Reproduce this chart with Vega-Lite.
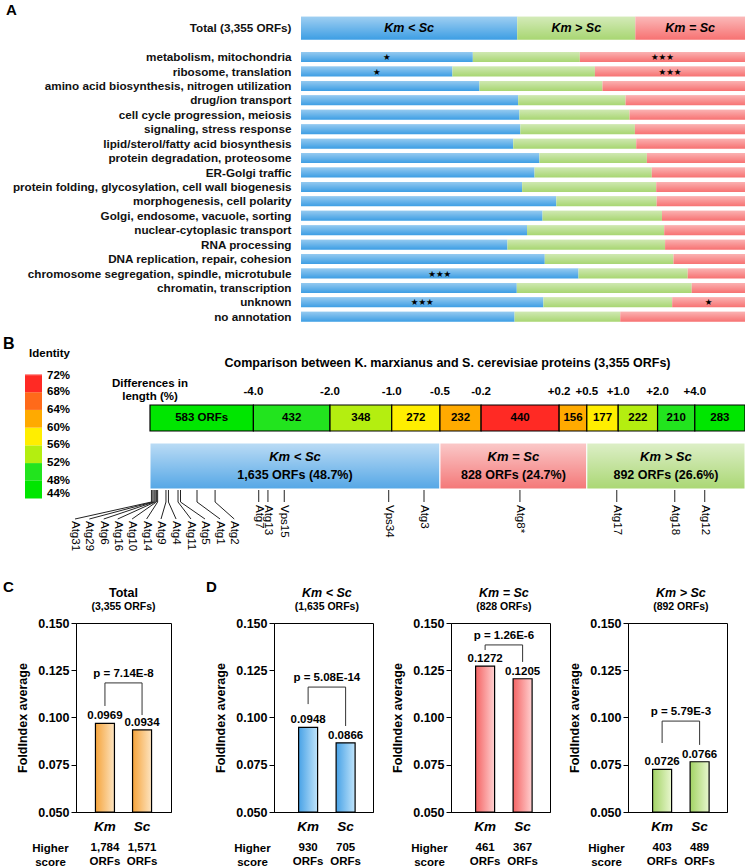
{
  "$schema": "https://vega.github.io/schema/vega-lite/v6.json",
  "padding": {"left": 2, "top": 2, "right": 0, "bottom": 0},
  "config": {
    "font": "Liberation Sans",
    "view": {"stroke": null},
    "title": {"fontSize": 15, "fontWeight": "bold", "anchor": "start", "frame": "group", "color": "black"}
  },
  "datasets": {
    "catA": [
      {"c": "Total (3,355 ORFs)", "g": "Km < Sc", "i": 0, "v": 48.7, "s": ""},
      {"c": "Total (3,355 ORFs)", "g": "Km > Sc", "i": 1, "v": 26.6, "s": ""},
      {"c": "Total (3,355 ORFs)", "g": "Km = Sc", "i": 2, "v": 24.7, "s": ""},
      {"c": "metabolism, mitochondria", "g": "Km < Sc", "i": 0, "v": 38.7, "s": "★"},
      {"c": "metabolism, mitochondria", "g": "Km > Sc", "i": 1, "v": 24.1, "s": ""},
      {"c": "metabolism, mitochondria", "g": "Km = Sc", "i": 2, "v": 37.2, "s": "★★★"},
      {"c": "ribosome, translation", "g": "Km < Sc", "i": 0, "v": 34.1, "s": "★"},
      {"c": "ribosome, translation", "g": "Km > Sc", "i": 1, "v": 32.1, "s": ""},
      {"c": "ribosome, translation", "g": "Km = Sc", "i": 2, "v": 33.8, "s": "★★★"},
      {"c": "amino acid biosynthesis, nitrogen utilization", "g": "Km < Sc", "i": 0, "v": 40.2, "s": ""},
      {"c": "amino acid biosynthesis, nitrogen utilization", "g": "Km > Sc", "i": 1, "v": 27.7, "s": ""},
      {"c": "amino acid biosynthesis, nitrogen utilization", "g": "Km = Sc", "i": 2, "v": 32.1, "s": ""},
      {"c": "drug/ion transport", "g": "Km < Sc", "i": 0, "v": 48.9, "s": ""},
      {"c": "drug/ion transport", "g": "Km > Sc", "i": 1, "v": 24.2, "s": ""},
      {"c": "drug/ion transport", "g": "Km = Sc", "i": 2, "v": 26.9, "s": ""},
      {"c": "cell cycle progression, meiosis", "g": "Km < Sc", "i": 0, "v": 49.2, "s": ""},
      {"c": "cell cycle progression, meiosis", "g": "Km > Sc", "i": 1, "v": 24.8, "s": ""},
      {"c": "cell cycle progression, meiosis", "g": "Km = Sc", "i": 2, "v": 26.0, "s": ""},
      {"c": "signaling, stress response", "g": "Km < Sc", "i": 0, "v": 49.4, "s": ""},
      {"c": "signaling, stress response", "g": "Km > Sc", "i": 1, "v": 25.8, "s": ""},
      {"c": "signaling, stress response", "g": "Km = Sc", "i": 2, "v": 24.8, "s": ""},
      {"c": "lipid/sterol/fatty acid biosynthesis", "g": "Km < Sc", "i": 0, "v": 47.8, "s": ""},
      {"c": "lipid/sterol/fatty acid biosynthesis", "g": "Km > Sc", "i": 1, "v": 27.7, "s": ""},
      {"c": "lipid/sterol/fatty acid biosynthesis", "g": "Km = Sc", "i": 2, "v": 24.5, "s": ""},
      {"c": "protein degradation, proteosome", "g": "Km < Sc", "i": 0, "v": 53.7, "s": ""},
      {"c": "protein degradation, proteosome", "g": "Km > Sc", "i": 1, "v": 24.2, "s": ""},
      {"c": "protein degradation, proteosome", "g": "Km = Sc", "i": 2, "v": 22.1, "s": ""},
      {"c": "ER-Golgi traffic", "g": "Km < Sc", "i": 0, "v": 52.6, "s": ""},
      {"c": "ER-Golgi traffic", "g": "Km > Sc", "i": 1, "v": 26.4, "s": ""},
      {"c": "ER-Golgi traffic", "g": "Km = Sc", "i": 2, "v": 21.0, "s": ""},
      {"c": "protein folding, glycosylation, cell wall biogenesis", "g": "Km < Sc", "i": 0, "v": 49.8, "s": ""},
      {"c": "protein folding, glycosylation, cell wall biogenesis", "g": "Km > Sc", "i": 1, "v": 30.2, "s": ""},
      {"c": "protein folding, glycosylation, cell wall biogenesis", "g": "Km = Sc", "i": 2, "v": 20.0, "s": ""},
      {"c": "morphogenesis, cell polarity", "g": "Km < Sc", "i": 0, "v": 57.5, "s": ""},
      {"c": "morphogenesis, cell polarity", "g": "Km > Sc", "i": 1, "v": 22.6, "s": ""},
      {"c": "morphogenesis, cell polarity", "g": "Km = Sc", "i": 2, "v": 19.9, "s": ""},
      {"c": "Golgi, endosome, vacuole, sorting", "g": "Km < Sc", "i": 0, "v": 54.4, "s": ""},
      {"c": "Golgi, endosome, vacuole, sorting", "g": "Km > Sc", "i": 1, "v": 26.9, "s": ""},
      {"c": "Golgi, endosome, vacuole, sorting", "g": "Km = Sc", "i": 2, "v": 18.7, "s": ""},
      {"c": "nuclear-cytoplasic transport", "g": "Km < Sc", "i": 0, "v": 50.9, "s": ""},
      {"c": "nuclear-cytoplasic transport", "g": "Km > Sc", "i": 1, "v": 30.9, "s": ""},
      {"c": "nuclear-cytoplasic transport", "g": "Km = Sc", "i": 2, "v": 18.2, "s": ""},
      {"c": "RNA processing", "g": "Km < Sc", "i": 0, "v": 46.5, "s": ""},
      {"c": "RNA processing", "g": "Km > Sc", "i": 1, "v": 35.5, "s": ""},
      {"c": "RNA processing", "g": "Km = Sc", "i": 2, "v": 18.0, "s": ""},
      {"c": "DNA replication, repair, cohesion", "g": "Km < Sc", "i": 0, "v": 54.9, "s": ""},
      {"c": "DNA replication, repair, cohesion", "g": "Km > Sc", "i": 1, "v": 29.0, "s": ""},
      {"c": "DNA replication, repair, cohesion", "g": "Km = Sc", "i": 2, "v": 16.1, "s": ""},
      {"c": "chromosome segregation, spindle, microtubule", "g": "Km < Sc", "i": 0, "v": 62.5, "s": "★★★"},
      {"c": "chromosome segregation, spindle, microtubule", "g": "Km > Sc", "i": 1, "v": 24.6, "s": ""},
      {"c": "chromosome segregation, spindle, microtubule", "g": "Km = Sc", "i": 2, "v": 12.9, "s": ""},
      {"c": "chromatin, transcription", "g": "Km < Sc", "i": 0, "v": 48.6, "s": ""},
      {"c": "chromatin, transcription", "g": "Km > Sc", "i": 1, "v": 39.4, "s": ""},
      {"c": "chromatin, transcription", "g": "Km = Sc", "i": 2, "v": 12.0, "s": ""},
      {"c": "unknown", "g": "Km < Sc", "i": 0, "v": 54.6, "s": "★★★"},
      {"c": "unknown", "g": "Km > Sc", "i": 1, "v": 29.0, "s": ""},
      {"c": "unknown", "g": "Km = Sc", "i": 2, "v": 16.4, "s": "★"},
      {"c": "no annotation", "g": "Km < Sc", "i": 0, "v": 48.1, "s": ""},
      {"c": "no annotation", "g": "Km > Sc", "i": 1, "v": 23.8, "s": ""},
      {"c": "no annotation", "g": "Km = Sc", "i": 2, "v": 28.1, "s": ""}
    ],
    "lengthB": [
      {"r": "< -4.0", "n": 583, "id": 46, "i": 0, "lab": "583 ORFs", "b": "-4.0"},
      {"r": "-4.0 to -2.0", "n": 432, "id": 50, "i": 1, "lab": "432", "b": "-2.0"},
      {"r": "-2.0 to -1.0", "n": 348, "id": 54, "i": 2, "lab": "348", "b": "-1.0"},
      {"r": "-1.0 to -0.5", "n": 272, "id": 58, "i": 3, "lab": "272", "b": "-0.5"},
      {"r": "-0.5 to -0.2", "n": 232, "id": 62, "i": 4, "lab": "232", "b": "-0.2"},
      {"r": "-0.2 to +0.2", "n": 440, "id": 70, "i": 5, "lab": "440", "b": "+0.2"},
      {"r": "+0.2 to +0.5", "n": 156, "id": 62, "i": 6, "lab": "156", "b": "+0.5"},
      {"r": "+0.5 to +1.0", "n": 177, "id": 58, "i": 7, "lab": "177", "b": "+1.0"},
      {"r": "+1.0 to +2.0", "n": 222, "id": 54, "i": 8, "lab": "222", "b": "+2.0"},
      {"r": "+2.0 to +4.0", "n": 210, "id": 50, "i": 9, "lab": "210", "b": "+4.0"},
      {"r": "> +4.0", "n": 283, "id": 46, "i": 10, "lab": "283", "b": ""}
    ],
    "classB": [
      {"cls": "Km < Sc", "n": 1635, "i": 0, "lab": "1,635 ORFs (48.7%)"},
      {"cls": "Km = Sc", "n": 828, "i": 1, "lab": "828 ORFs (24.7%)"},
      {"cls": "Km > Sc", "n": 892, "i": 2, "lab": "892 ORFs (26.6%)"}
    ],
    "atg": [
      {"name": "Atg31", "pos": 8, "lp": -423, "fan": true},
      {"name": "Atg29", "pos": 16, "lp": -342, "fan": true},
      {"name": "Atg6", "pos": 23, "lp": -261, "fan": true},
      {"name": "Atg16", "pos": 29, "lp": -182, "fan": true},
      {"name": "Atg10", "pos": 36, "lp": -101, "fan": true},
      {"name": "Atg14", "pos": 43, "lp": -19, "fan": true},
      {"name": "Atg9", "pos": 90, "lp": 62, "fan": true},
      {"name": "Atg4", "pos": 104, "lp": 147, "fan": true},
      {"name": "Atg11", "pos": 158, "lp": 231, "fan": true},
      {"name": "Atg5", "pos": 172, "lp": 310, "fan": true},
      {"name": "Atg1", "pos": 265, "lp": 395, "fan": true},
      {"name": "Atg2", "pos": 367, "lp": 475, "fan": true},
      {"name": "Atg7", "pos": 613, "lp": 613, "fan": false},
      {"name": "Atg13", "pos": 665, "lp": 665, "fan": false},
      {"name": "Vps15", "pos": 757, "lp": 757, "fan": false},
      {"name": "Vps34", "pos": 1346, "lp": 1346, "fan": false},
      {"name": "Atg3", "pos": 1545, "lp": 1545, "fan": false},
      {"name": "Atg8*", "pos": 2086, "lp": 2086, "fan": false},
      {"name": "Atg17", "pos": 2632, "lp": 2632, "fan": false},
      {"name": "Atg18", "pos": 2959, "lp": 2959, "fan": false},
      {"name": "Atg12", "pos": 3128, "lp": 3128, "fan": false}
    ]
  },
  "columns": 1,
  "spacing": 27,
  "concat": [
    {
      "columns": 1,
      "spacing": 12,
      "concat": [
        {
          "width": 669,
          "height": 303,
          "title": {"text": "A", "dx": -70, "offset": -1},
          "data": {"name": "catA"},
          "encoding": {
            "y": {
              "field": "c", "type": "nominal",
              "scale": {"domain": ["Total (3,355 ORFs)", " ", "metabolism, mitochondria", "ribosome, translation", "amino acid biosynthesis, nitrogen utilization", "drug/ion transport", "cell cycle progression, meiosis", "signaling, stress response", "lipid/sterol/fatty acid biosynthesis", "protein degradation, proteosome", "ER-Golgi traffic", "protein folding, glycosylation, cell wall biogenesis", "morphogenesis, cell polarity", "Golgi, endosome, vacuole, sorting", "nuclear-cytoplasic transport", "RNA processing", "DNA replication, repair, cohesion", "chromosome segregation, spindle, microtubule", "chromatin, transcription", "unknown", "no annotation"], "paddingInner": 0, "paddingOuter": 0},
              "axis": {"title": null, "domain": false, "ticks": false, "offset": -225, "labelPadding": 10, "labelFontSize": 11.7, "labelFontWeight": "bold", "labelColor": "#111", "labelLimit": 400}
            }
          },
          "layer": [
            {
              "transform": [{"filter": "datum.c === 'Total (3,355 ORFs)'"}],
              "mark": {"type": "bar", "height": 23},
              "encoding": {
                "x": {"field": "v", "type": "quantitative", "stack": "zero", "scale": {"domain": [-50.68, 100], "nice": false, "zero": false}, "axis": null},
                "color": {"field": "g", "type": "nominal", "scale": {"domain": ["Km < Sc", "Km > Sc", "Km = Sc"], "range": ["#3d9ee4", "#a8d672", "#f77272"]}, "legend": null},
                "order": {"field": "i", "type": "quantitative"}
              }
            },
            {
              "transform": [{"filter": "datum.c !== 'Total (3,355 ORFs)'"}],
              "mark": {"type": "bar", "height": 10},
              "encoding": {
                "x": {"field": "v", "type": "quantitative", "stack": "zero"},
                "color": {"field": "g", "type": "nominal", "legend": null},
                "order": {"field": "i", "type": "quantitative"}
              }
            },
            {
              "transform": [{"filter": "datum.c === 'Total (3,355 ORFs)'"}],
              "mark": {"type": "bar", "height": 23, "color": {"gradient": "linear", "x1": 0, "y1": 0, "x2": 0, "y2": 1, "stops": [{"offset": 0, "color": "rgba(255,255,255,0.5)"}, {"offset": 1, "color": "rgba(255,255,255,0)"}]}},
              "encoding": {"x": {"aggregate": "sum", "field": "v", "type": "quantitative"}}
            },
            {
              "transform": [{"filter": "datum.c !== 'Total (3,355 ORFs)'"}],
              "mark": {"type": "bar", "height": 10, "color": {"gradient": "linear", "x1": 0, "y1": 0, "x2": 0, "y2": 1, "stops": [{"offset": 0, "color": "rgba(255,255,255,0.45)"}, {"offset": 1, "color": "rgba(255,255,255,0)"}]}},
              "encoding": {"x": {"aggregate": "sum", "field": "v", "type": "quantitative"}}
            },
            {
              "transform": [{"filter": "datum.c === 'Total (3,355 ORFs)'"}],
              "mark": {"type": "text", "fontStyle": "italic", "fontWeight": "bold", "fontSize": 12.5, "color": "black"},
              "encoding": {
                "x": {"field": "v", "type": "quantitative", "stack": "zero", "bandPosition": 0.5},
                "detail": {"field": "g"},
                "order": {"field": "i", "type": "quantitative"},
                "text": {"field": "g"}
              }
            },
            {
              "transform": [{"filter": "datum.c !== 'Total (3,355 ORFs)'"}],
              "mark": {"type": "text", "font": "DejaVu Sans", "fontSize": 8.5, "color": "black"},
              "encoding": {
                "x": {"field": "v", "type": "quantitative", "stack": "zero", "bandPosition": 0.5},
                "detail": {"field": "g"},
                "order": {"field": "i", "type": "quantitative"},
                "text": {"field": "s"}
              }
            }
          ]
        },
        {
          "width": 669,
          "height": 96,
          "title": {"text": "B", "dx": -73, "offset": -4, "fontSize": 16},
          "layer": [
            {
              "data": {"name": "lengthB"},
              "mark": {"type": "bar", "height": 26, "stroke": "black", "strokeWidth": 1.2},
              "encoding": {
                "x": {"field": "n", "type": "quantitative", "stack": "zero", "scale": {"domain": [-417.3, 3355], "nice": false, "zero": false}, "axis": null},
                "y": {"datum": "length", "type": "nominal", "scale": {"domain": ["length", "class"], "paddingInner": 0, "paddingOuter": 0}, "axis": null},
                "color": {
                  "field": "id", "type": "quantitative",
                  "scale": {"type": "quantize", "domain": [44, 72], "nice": false, "zero": false, "range": ["#00e600", "#22e41e", "#b4ee10", "#ffee00", "#ffaa00", "#ff6a1a", "#ff2a24"]},
                  "legend": {"type": "gradient", "values": [44.3, 48, 52, 56, 60, 64, 68, 71.7], "title": "Identity", "orient": "none", "legendX": -51, "legendY": -46, "direction": "vertical", "gradientLength": 124, "gradientThickness": 17, "gradientStrokeWidth": 0, "labelExpr": "round(datum.value) + '%'", "labelFontSize": 11.5, "labelFontWeight": "bold", "labelColor": "black", "labelOffset": 5, "labelOverlap": false, "titleFontSize": 11.5, "titleFontWeight": "bold", "titleColor": "black", "titleAnchor": "end", "titlePadding": 15}
                },
                "detail": {"field": "r"},
                "order": {"field": "i", "type": "quantitative"}
              }
            },
            {
              "data": {"name": "lengthB"},
              "mark": {"type": "text", "fontSize": 11.5, "fontWeight": "bold", "color": "black"},
              "encoding": {
                "x": {"field": "n", "type": "quantitative", "stack": "zero", "bandPosition": 0.5},
                "y": {"datum": "length", "type": "nominal"},
                "detail": {"field": "r"},
                "order": {"field": "i", "type": "quantitative"},
                "text": {"field": "lab"}
              }
            },
            {
              "data": {"name": "lengthB"},
              "mark": {"type": "text", "fontSize": 11.5, "fontWeight": "bold", "color": "black", "yOffset": -26},
              "encoding": {
                "x": {"field": "n", "type": "quantitative", "stack": "zero"},
                "y": {"datum": "length", "type": "nominal"},
                "detail": {"field": "r"},
                "order": {"field": "i", "type": "quantitative"},
                "text": {"field": "b"}
              }
            },
            {
              "data": {"name": "classB"},
              "mark": {"type": "bar", "height": 46, "stroke": "white", "strokeWidth": 1},
              "encoding": {
                "x": {"field": "n", "type": "quantitative", "stack": "zero"},
                "y": {"datum": "class", "type": "nominal"},
                "fill": {"field": "cls", "type": "nominal", "scale": {"domain": ["Km < Sc", "Km = Sc", "Km > Sc"], "range": ["#55a7e6", "#f47878", "#aad774"]}, "legend": null},
                "order": {"field": "i", "type": "quantitative"}
              }
            },
            {
              "data": {"name": "classB"},
              "mark": {"type": "bar", "height": 46, "color": {"gradient": "linear", "x1": 0, "y1": 0, "x2": 0, "y2": 1, "stops": [{"offset": 0, "color": "rgba(255,255,255,0.6)"}, {"offset": 1, "color": "rgba(255,255,255,0)"}]}},
              "encoding": {
                "x": {"aggregate": "sum", "field": "n", "type": "quantitative"},
                "y": {"datum": "class", "type": "nominal"}
              }
            },
            {
              "data": {"name": "classB"},
              "mark": {"type": "text", "fontSize": 13, "fontWeight": "bold", "fontStyle": "italic", "color": "black", "yOffset": -9},
              "encoding": {
                "x": {"field": "n", "type": "quantitative", "stack": "zero", "bandPosition": 0.5},
                "y": {"datum": "class", "type": "nominal"},
                "detail": {"field": "cls"},
                "order": {"field": "i", "type": "quantitative"},
                "text": {"field": "cls"}
              }
            },
            {
              "data": {"name": "classB"},
              "mark": {"type": "text", "fontSize": 12.5, "fontWeight": "bold", "color": "black", "yOffset": 9},
              "encoding": {
                "x": {"field": "n", "type": "quantitative", "stack": "zero", "bandPosition": 0.5},
                "y": {"datum": "class", "type": "nominal"},
                "detail": {"field": "cls"},
                "order": {"field": "i", "type": "quantitative"},
                "text": {"field": "lab"}
              }
            },
            {
              "data": {"name": "atg"},
              "mark": {"type": "rule", "color": "#222", "strokeWidth": 1, "y2Offset": 12},
              "encoding": {
                "x": {"field": "pos", "type": "quantitative"},
                "y": {"datum": "class", "type": "nominal", "bandPosition": 1},
                "y2": {"datum": "class", "bandPosition": 1}
              }
            },
            {
              "data": {"name": "atg"},
              "transform": [{"filter": "datum.fan"}],
              "mark": {"type": "rule", "color": "#222", "strokeWidth": 1, "yOffset": 12, "y2Offset": 29},
              "encoding": {
                "x": {"field": "pos", "type": "quantitative"},
                "x2": {"field": "lp"},
                "y": {"datum": "class", "type": "nominal", "bandPosition": 1},
                "y2": {"datum": "class", "bandPosition": 1}
              }
            },
            {
              "data": {"name": "atg"},
              "transform": [{"filter": "datum.fan"}],
              "mark": {"type": "text", "angle": 90, "align": "left", "baseline": "middle", "fontSize": 11.5, "color": "black", "yOffset": 31},
              "encoding": {
                "x": {"field": "lp", "type": "quantitative"},
                "y": {"datum": "class", "type": "nominal", "bandPosition": 1},
                "text": {"field": "name"}
              }
            },
            {
              "data": {"name": "atg"},
              "transform": [{"filter": "!datum.fan"}],
              "mark": {"type": "text", "angle": 90, "align": "left", "baseline": "middle", "fontSize": 11.5, "color": "black", "yOffset": 15},
              "encoding": {
                "x": {"field": "pos", "type": "quantitative"},
                "y": {"datum": "class", "type": "nominal", "bandPosition": 1},
                "text": {"field": "name"}
              }
            },
            {
              "data": {"values": [{"t": ["Differences in", "length (%)"]}]},
              "mark": {"type": "text", "fontSize": 11.5, "fontWeight": "bold", "color": "black", "baseline": "top", "lineHeight": 13, "yOffset": -40},
              "encoding": {
                "x": {"datum": 0, "type": "quantitative"},
                "y": {"datum": "length", "type": "nominal"},
                "text": {"field": "t"}
              }
            },
            {
              "data": {"values": [{"t": "Comparison between K. marxianus and S. cerevisiae proteins (3,355 ORFs)"}]},
              "mark": {"type": "text", "fontSize": 12.5, "fontWeight": "bold", "color": "black", "yOffset": -55},
              "encoding": {
                "x": {"datum": 1677.5, "type": "quantitative"},
                "y": {"datum": "length", "type": "nominal"},
                "text": {"field": "t"}
              }
            }
          ]
        }
      ]
    },
    {
      "hconcat": [
        {
          "width": 95,
          "height": 189,
          "view": {"stroke": "black", "strokeWidth": 1},
          "title": {"text": "C", "dx": -73, "offset": -8},
          "data": {"values": [
            {"g": "Km", "v": 0.0969, "n": ["1,784", "ORFs"], "tip": 0.1061, "br": 0.1183, "p": "p = 7.14E-8", "t1": "Total", "t2": "(3,355 ORFs)"},
            {"g": "Sc", "v": 0.0934, "n": ["1,571", "ORFs"], "tip": 0.1013, "br": 0.1183}
          ]},
          "encoding": {
            "x": {"field": "g", "type": "nominal", "scale": {"domain": ["Km", "Sc"], "paddingInner": 0, "paddingOuter": 0.28},
              "axis": {"title": ["Higher", "score"], "titleFontSize": 11.5, "titleFontWeight": "bold", "titleColor": "black", "titleX": -26, "titleY": 30, "titleAlign": "center", "titleBaseline": "top", "titleLineHeight": 14, "labelAngle": 0, "labelFontSize": 13.5, "labelFontStyle": "italic", "labelFontWeight": "bold", "labelColor": "black", "labelPadding": 7, "ticks": false, "domainColor": "black"}}
          },
          "layer": [
            {
              "mark": {"type": "bar", "width": 19, "stroke": "black", "strokeWidth": 1.2, "color": {"gradient": "linear", "x1": 0, "y1": 0, "x2": 1, "y2": 0, "stops": [{"offset": 0, "color": "#f5a43c"}, {"offset": 1, "color": "#fde4c0"}]}},
              "encoding": {
                "y": {"field": "v", "type": "quantitative", "scale": {"domain": [0.05, 0.15], "nice": false, "zero": false},
                  "axis": {"values": [0.05, 0.075, 0.1, 0.125, 0.15], "format": ".3f", "title": "FoldIndex average", "titleFontSize": 12.5, "titleFontWeight": "bold", "titleColor": "black", "titlePadding": 8, "labelFontSize": 12.5, "labelFontWeight": "bold", "labelColor": "black", "domainColor": "black", "tickColor": "black", "tickSize": 5, "grid": false, "labelPadding": 2}},
                "y2": {"datum": 0.05}
              }
            },
            {
              "mark": {"type": "text", "baseline": "bottom", "dy": -2, "fontSize": 11.5, "fontWeight": "bold", "color": "black"},
              "encoding": {"y": {"field": "v", "type": "quantitative"}, "text": {"field": "v", "type": "quantitative", "format": ".4f"}}
            },
            {
              "mark": {"type": "rule", "color": "#333", "strokeWidth": 1},
              "encoding": {"y": {"field": "br", "type": "quantitative"}, "y2": {"field": "tip"}}
            },
            {
              "transform": [{"filter": "datum.g === 'Km'"}],
              "mark": {"type": "rule", "color": "#333", "strokeWidth": 1},
              "encoding": {"x": {"datum": "Km"}, "x2": {"datum": "Sc"}, "y": {"field": "br", "type": "quantitative"}}
            },
            {
              "transform": [{"filter": "datum.g === 'Km'"}],
              "mark": {"type": "text", "baseline": "bottom", "dy": -4, "fontSize": 11.5, "fontWeight": "bold", "color": "black"},
              "encoding": {"x": {"datum": "Km", "bandPosition": 1}, "y": {"field": "br", "type": "quantitative"}, "text": {"field": "p"}}
            },
            {
              "transform": [{"filter": "datum.g === 'Km'"}],
              "mark": {"type": "text", "fontSize": 12.5, "fontWeight": "bold", "color": "black", "yOffset": -30},
              "encoding": {"x": {"datum": "Km", "bandPosition": 1}, "y": {"datum": 0.15}, "text": {"field": "t1"}}
            },
            {
              "transform": [{"filter": "datum.g === 'Km'"}],
              "mark": {"type": "text", "fontSize": 10.5, "fontWeight": "bold", "color": "black", "yOffset": -16},
              "encoding": {"x": {"datum": "Km", "bandPosition": 1}, "y": {"datum": 0.15}, "text": {"field": "t2"}}
            },
            {
              "mark": {"type": "text", "baseline": "top", "yOffset": 30, "fontSize": 11.5, "fontWeight": "bold", "lineHeight": 14, "color": "black"},
              "encoding": {"y": {"datum": 0.05}, "text": {"field": "n"}}
            }
          ]
        },
        {
          "spacing": 78,
          "bounds": "flush",
          "hconcat": [
            {
              "width": 99,
              "height": 189,
              "view": {"stroke": "black", "strokeWidth": 1},
              "title": {"text": "D", "dx": -68, "offset": -8},
              "data": {"values": [
                {"g": "Km", "v": 0.0948, "n": ["930", "ORFs"], "tip": 0.1071, "br": 0.1161, "p": "p = 5.08E-14", "t1": "Km < Sc", "t2": "(1,635 ORFs)"},
                {"g": "Sc", "v": 0.0866, "n": ["705", "ORFs"], "tip": 0.0955, "br": 0.1161}
              ]},
              "encoding": {
                "x": {"field": "g", "type": "nominal", "scale": {"domain": ["Km", "Sc"], "paddingInner": 0, "paddingOuter": 0.32, "align": 0.64},
                  "axis": {"title": ["Higher", "score"], "titleFontSize": 11.5, "titleFontWeight": "bold", "titleColor": "black", "titleX": -22, "titleY": 30, "titleAlign": "center", "titleBaseline": "top", "titleLineHeight": 14, "labelAngle": 0, "labelFontSize": 13.5, "labelFontStyle": "italic", "labelFontWeight": "bold", "labelColor": "black", "labelPadding": 7, "ticks": false, "domainColor": "black"}}
              },
              "layer": [
                {
                  "mark": {"type": "bar", "width": 19, "stroke": "black", "strokeWidth": 1.2, "color": {"gradient": "linear", "x1": 0, "y1": 0, "x2": 1, "y2": 0, "stops": [{"offset": 0, "color": "#48a2e6"}, {"offset": 1, "color": "#c0e4fb"}]}},
                  "encoding": {
                    "y": {"field": "v", "type": "quantitative", "scale": {"domain": [0.05, 0.15], "nice": false, "zero": false},
                      "axis": {"values": [0.05, 0.075, 0.1, 0.125, 0.15], "format": ".3f", "title": "FoldIndex average", "titleFontSize": 12.5, "titleFontWeight": "bold", "titleColor": "black", "titlePadding": 8, "labelFontSize": 12.5, "labelFontWeight": "bold", "labelColor": "black", "domainColor": "black", "tickColor": "black", "tickSize": 5, "grid": false, "labelPadding": 2}},
                    "y2": {"datum": 0.05}
                  }
                },
                {
                  "mark": {"type": "text", "baseline": "bottom", "dy": -2, "fontSize": 11.5, "fontWeight": "bold", "color": "black"},
                  "encoding": {"y": {"field": "v", "type": "quantitative"}, "text": {"field": "v", "type": "quantitative", "format": ".4f"}}
                },
                {
                  "mark": {"type": "rule", "color": "#333", "strokeWidth": 1},
                  "encoding": {"y": {"field": "br", "type": "quantitative"}, "y2": {"field": "tip"}}
                },
                {
                  "transform": [{"filter": "datum.g === 'Km'"}],
                  "mark": {"type": "rule", "color": "#333", "strokeWidth": 1},
                  "encoding": {"x": {"datum": "Km"}, "x2": {"datum": "Sc"}, "y": {"field": "br", "type": "quantitative"}}
                },
                {
                  "transform": [{"filter": "datum.g === 'Km'"}],
                  "mark": {"type": "text", "baseline": "bottom", "dy": -4, "fontSize": 11.5, "fontWeight": "bold", "color": "black"},
                  "encoding": {"x": {"datum": "Km", "bandPosition": 1}, "y": {"field": "br", "type": "quantitative"}, "text": {"field": "p"}}
                },
                {
                  "transform": [{"filter": "datum.g === 'Km'"}],
                  "mark": {"type": "text", "fontSize": 12.5, "fontWeight": "bold", "fontStyle": "italic", "color": "black", "yOffset": -30},
                  "encoding": {"x": {"datum": "Km", "bandPosition": 1}, "y": {"datum": 0.15}, "text": {"field": "t1"}}
                },
                {
                  "transform": [{"filter": "datum.g === 'Km'"}],
                  "mark": {"type": "text", "fontSize": 10.5, "fontWeight": "bold", "color": "black", "yOffset": -16},
                  "encoding": {"x": {"datum": "Km", "bandPosition": 1}, "y": {"datum": 0.15}, "text": {"field": "t2"}}
                },
                {
                  "mark": {"type": "text", "baseline": "top", "yOffset": 30, "fontSize": 11.5, "fontWeight": "bold", "lineHeight": 14, "color": "black"},
                  "encoding": {"y": {"datum": 0.05}, "text": {"field": "n"}}
                }
              ]
            },
            {
              "width": 99,
              "height": 189,
              "view": {"stroke": "black", "strokeWidth": 1},
              "data": {"values": [
                {"g": "Km", "v": 0.1272, "n": ["461", "ORFs"], "tip": 0.1357, "br": 0.1384, "p": "p = 1.26E-6", "t1": "Km = Sc", "t2": "(828 ORFs)"},
                {"g": "Sc", "v": 0.1205, "n": ["367", "ORFs"], "tip": 0.1294, "br": 0.1384}
              ]},
              "encoding": {
                "x": {"field": "g", "type": "nominal", "scale": {"domain": ["Km", "Sc"], "paddingInner": 0, "paddingOuter": 0.32, "align": 0.64},
                  "axis": {"title": ["Higher", "score"], "titleFontSize": 11.5, "titleFontWeight": "bold", "titleColor": "black", "titleX": -22, "titleY": 30, "titleAlign": "center", "titleBaseline": "top", "titleLineHeight": 14, "labelAngle": 0, "labelFontSize": 13.5, "labelFontStyle": "italic", "labelFontWeight": "bold", "labelColor": "black", "labelPadding": 7, "ticks": false, "domainColor": "black"}}
              },
              "layer": [
                {
                  "mark": {"type": "bar", "width": 19, "stroke": "black", "strokeWidth": 1.2, "color": {"gradient": "linear", "x1": 0, "y1": 0, "x2": 1, "y2": 0, "stops": [{"offset": 0, "color": "#f46464"}, {"offset": 1, "color": "#ffd0d0"}]}},
                  "encoding": {
                    "y": {"field": "v", "type": "quantitative", "scale": {"domain": [0.05, 0.15], "nice": false, "zero": false},
                      "axis": {"values": [0.05, 0.075, 0.1, 0.125, 0.15], "format": ".3f", "title": "FoldIndex average", "titleFontSize": 12.5, "titleFontWeight": "bold", "titleColor": "black", "titlePadding": 8, "labelFontSize": 12.5, "labelFontWeight": "bold", "labelColor": "black", "domainColor": "black", "tickColor": "black", "tickSize": 5, "grid": false, "labelPadding": 2}},
                    "y2": {"datum": 0.05}
                  }
                },
                {
                  "mark": {"type": "text", "baseline": "bottom", "dy": -2, "fontSize": 11.5, "fontWeight": "bold", "color": "black"},
                  "encoding": {"y": {"field": "v", "type": "quantitative"}, "text": {"field": "v", "type": "quantitative", "format": ".4f"}}
                },
                {
                  "mark": {"type": "rule", "color": "#333", "strokeWidth": 1},
                  "encoding": {"y": {"field": "br", "type": "quantitative"}, "y2": {"field": "tip"}}
                },
                {
                  "transform": [{"filter": "datum.g === 'Km'"}],
                  "mark": {"type": "rule", "color": "#333", "strokeWidth": 1},
                  "encoding": {"x": {"datum": "Km"}, "x2": {"datum": "Sc"}, "y": {"field": "br", "type": "quantitative"}}
                },
                {
                  "transform": [{"filter": "datum.g === 'Km'"}],
                  "mark": {"type": "text", "baseline": "bottom", "dy": -4, "fontSize": 11.5, "fontWeight": "bold", "color": "black"},
                  "encoding": {"x": {"datum": "Km", "bandPosition": 1}, "y": {"field": "br", "type": "quantitative"}, "text": {"field": "p"}}
                },
                {
                  "transform": [{"filter": "datum.g === 'Km'"}],
                  "mark": {"type": "text", "fontSize": 12.5, "fontWeight": "bold", "fontStyle": "italic", "color": "black", "yOffset": -30},
                  "encoding": {"x": {"datum": "Km", "bandPosition": 1}, "y": {"datum": 0.15}, "text": {"field": "t1"}}
                },
                {
                  "transform": [{"filter": "datum.g === 'Km'"}],
                  "mark": {"type": "text", "fontSize": 10.5, "fontWeight": "bold", "color": "black", "yOffset": -16},
                  "encoding": {"x": {"datum": "Km", "bandPosition": 1}, "y": {"datum": 0.15}, "text": {"field": "t2"}}
                },
                {
                  "mark": {"type": "text", "baseline": "top", "yOffset": 30, "fontSize": 11.5, "fontWeight": "bold", "lineHeight": 14, "color": "black"},
                  "encoding": {"y": {"datum": 0.05}, "text": {"field": "n"}}
                }
              ]
            },
            {
              "width": 99,
              "height": 189,
              "view": {"stroke": "black", "strokeWidth": 1},
              "data": {"values": [
                {"g": "Km", "v": 0.0726, "n": ["403", "ORFs"], "tip": 0.0865, "br": 0.0981, "p": "p = 5.79E-3", "t1": "Km > Sc", "t2": "(892 ORFs)"},
                {"g": "Sc", "v": 0.0766, "n": ["489", "ORFs"], "tip": 0.0855, "br": 0.0981}
              ]},
              "encoding": {
                "x": {"field": "g", "type": "nominal", "scale": {"domain": ["Km", "Sc"], "paddingInner": 0, "paddingOuter": 0.32, "align": 0.64},
                  "axis": {"title": ["Higher", "score"], "titleFontSize": 11.5, "titleFontWeight": "bold", "titleColor": "black", "titleX": -22, "titleY": 30, "titleAlign": "center", "titleBaseline": "top", "titleLineHeight": 14, "labelAngle": 0, "labelFontSize": 13.5, "labelFontStyle": "italic", "labelFontWeight": "bold", "labelColor": "black", "labelPadding": 7, "ticks": false, "domainColor": "black"}}
              },
              "layer": [
                {
                  "mark": {"type": "bar", "width": 19, "stroke": "black", "strokeWidth": 1.2, "color": {"gradient": "linear", "x1": 0, "y1": 0, "x2": 1, "y2": 0, "stops": [{"offset": 0, "color": "#a2d364"}, {"offset": 1, "color": "#e8f6ce"}]}},
                  "encoding": {
                    "y": {"field": "v", "type": "quantitative", "scale": {"domain": [0.05, 0.15], "nice": false, "zero": false},
                      "axis": {"values": [0.05, 0.075, 0.1, 0.125, 0.15], "format": ".3f", "title": "FoldIndex average", "titleFontSize": 12.5, "titleFontWeight": "bold", "titleColor": "black", "titlePadding": 8, "labelFontSize": 12.5, "labelFontWeight": "bold", "labelColor": "black", "domainColor": "black", "tickColor": "black", "tickSize": 5, "grid": false, "labelPadding": 2}},
                    "y2": {"datum": 0.05}
                  }
                },
                {
                  "mark": {"type": "text", "baseline": "bottom", "dy": -2, "fontSize": 11.5, "fontWeight": "bold", "color": "black"},
                  "encoding": {"y": {"field": "v", "type": "quantitative"}, "text": {"field": "v", "type": "quantitative", "format": ".4f"}}
                },
                {
                  "mark": {"type": "rule", "color": "#333", "strokeWidth": 1},
                  "encoding": {"y": {"field": "br", "type": "quantitative"}, "y2": {"field": "tip"}}
                },
                {
                  "transform": [{"filter": "datum.g === 'Km'"}],
                  "mark": {"type": "rule", "color": "#333", "strokeWidth": 1},
                  "encoding": {"x": {"datum": "Km"}, "x2": {"datum": "Sc"}, "y": {"field": "br", "type": "quantitative"}}
                },
                {
                  "transform": [{"filter": "datum.g === 'Km'"}],
                  "mark": {"type": "text", "baseline": "bottom", "dy": -4, "fontSize": 11.5, "fontWeight": "bold", "color": "black"},
                  "encoding": {"x": {"datum": "Km", "bandPosition": 1}, "y": {"field": "br", "type": "quantitative"}, "text": {"field": "p"}}
                },
                {
                  "transform": [{"filter": "datum.g === 'Km'"}],
                  "mark": {"type": "text", "fontSize": 12.5, "fontWeight": "bold", "fontStyle": "italic", "color": "black", "yOffset": -30},
                  "encoding": {"x": {"datum": "Km", "bandPosition": 1}, "y": {"datum": 0.15}, "text": {"field": "t1"}}
                },
                {
                  "transform": [{"filter": "datum.g === 'Km'"}],
                  "mark": {"type": "text", "fontSize": 10.5, "fontWeight": "bold", "color": "black", "yOffset": -16},
                  "encoding": {"x": {"datum": "Km", "bandPosition": 1}, "y": {"datum": 0.15}, "text": {"field": "t2"}}
                },
                {
                  "mark": {"type": "text", "baseline": "top", "yOffset": 30, "fontSize": 11.5, "fontWeight": "bold", "lineHeight": 14, "color": "black"},
                  "encoding": {"y": {"datum": 0.05}, "text": {"field": "n"}}
                }
              ]
            }
          ]
        }
      ],
      "spacing": 103,
      "bounds": "flush"
    }
  ]
}
